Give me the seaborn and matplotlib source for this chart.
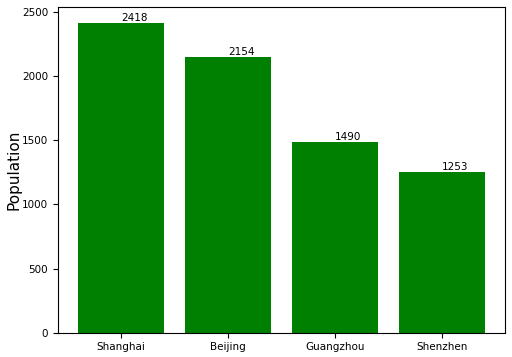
import matplotlib
matplotlib.use("Agg")
import matplotlib.pyplot as plt
import seaborn as sns
import pandas as pd

cities = ["Shanghai", "Beijing", "Guangzhou", "Shenzhen"]
population = [2418, 2154, 1490, 1253]

sns.set_style("ticks", rc={"axes.edgecolor": "black", "text.color": "black",
                           "axes.labelcolor": "black", "xtick.color": "black",
                           "ytick.color": "black"})
plt.rcParams['font.family'] = ['DejaVu Sans']

df = pd.DataFrame({"city": cities, "pop": population})
fig, ax = plt.subplots(figsize=(5.12, 3.57), dpi=100)
fig.subplots_adjust(left=0.113, right=0.987, top=0.98, bottom=0.068)
sns.barplot(data=df, x="city", y="pop", color="green", saturation=1, width=0.8,
            linewidth=0, ax=ax)
for i, v in enumerate(population):
    ax.text(i, v, str(v), fontsize=7.5, va="bottom")
ax.set_xlabel("")
ax.set_ylabel("Population", fontsize=11, labelpad=0.5)
ax.tick_params(labelsize=7.5)
ax.set_xlim(-0.59, 3.59)
ax.set_ylim(0, 2539)
fig.savefig("out.png", dpi=100)
